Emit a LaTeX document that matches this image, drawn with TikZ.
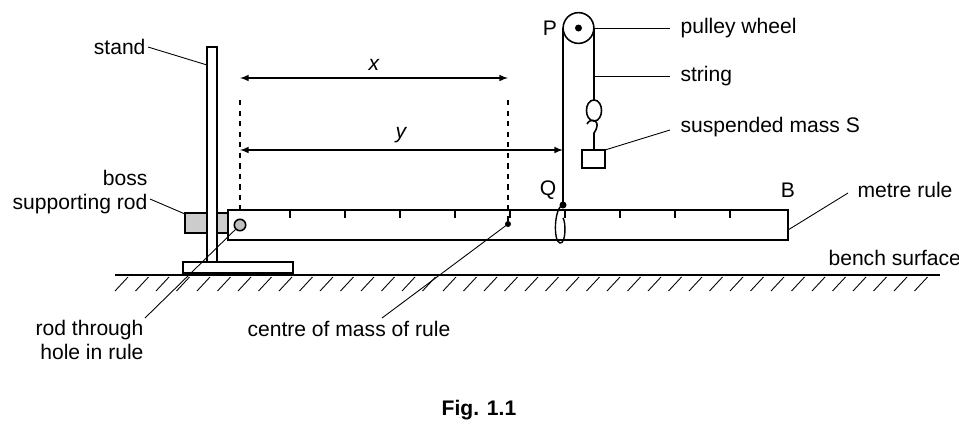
\documentclass[tikz,border=0pt]{standalone}
\usepackage{fontspec}
\setmainfont{Liberation Sans}
\begin{document}
\begin{tikzpicture}[x=0.02cm,y=-0.02cm,line width=0.9pt,
  lbl/.style={font=\fontsize{12}{14}\selectfont,inner sep=1pt},
  lead/.style={line width=0.5pt},
  dim/.style={line width=0.7pt,-latex}]
\useasboundingbox (0,0) rectangle (959,427);
% bench
\draw (115,275) -- (940,275);
\foreach \i in {0,...,39} \draw[line width=0.5pt] (128+20.5*\i,277) -- (115+20.5*\i,291);
% stand
\draw (183,262) rectangle (293,273);
\fill[gray!40] (185,213) rectangle (207,233);
\draw (185,213) rectangle (207,233);
\fill[gray!40] (217,213) rectangle (228,233);
\draw (217,213) -- (228,213) (217,233) -- (228,233);
\draw[fill=white] (207,47) rectangle (217,262);
\coordinate (standpt) at (207,65);
% rule
\draw (228,210) rectangle (788,240);
\foreach \t in {290,345,400,455,510,565,620,675,730} \draw[line width=0.7pt] (\t,210) -- (\t,218);
\node[circle,draw,fill=gray!50,minimum size=6.5pt,inner sep=0pt] (hole) at (240,225) {};
% dashed
\draw[dashed,line width=0.7pt] (240,100) -- (240,210);
\draw[dashed,line width=0.7pt] (508,100) -- (508,224);
\fill (508,224) circle (3);
\coordinate (cm) at (508,224);
% dimension arrows
\draw[dim,latex-latex] (240,78) -- (508,78);
\node[lbl,font=\fontsize{12}{14}\selectfont\itshape] at (374,65) {x};
\draw[dim,latex-latex] (240,150) -- (563,150);
\node[lbl,font=\fontsize{12}{14}\selectfont\itshape] at (401,135) {y};
% pulley
\node[circle,draw,minimum size=17.5pt,inner sep=0pt] (pw) at (578.5,28) {};
\fill (578.5,28) circle (3.5);
\draw (563,28) -- (563,205);
\fill (563,205) circle (3.5);
\coordinate (Q) at (563,205);
\draw[line width=0.8pt] (563,205) .. controls (554,207) and (553,242) .. (560,243) .. controls (566,244) and (566,222) .. (563,218);
\draw (594,28) -- (594,100);
\draw (594,100) .. controls (584,100) and (584,121) .. (594,121) .. controls (604,121) and (604,100) .. (594,100);
\draw (587,124) .. controls (590,117) and (603,120) .. (594,133) -- (594,150);
\draw[fill=white] (582,150) rectangle (605,168);
\coordinate (mass) at (605,150);
% labels
\node[lbl] at (550,28) {P};
\node[lbl] at (548,190) {Q};
\node[lbl] at (788,190) {B};
\node[lbl,anchor=east] (stand) at (148,47) {stand};
\draw[lead] (stand.east) -- (standpt);
\node[lbl,anchor=east,align=right] at (150,192) {boss\\supporting rod};
\draw[lead] (150,199) -- (185,214);
\node[lbl,anchor=west] at (678,28) {pulley wheel};
\draw[lead] (594,28) -- (670,28);
\node[lbl,anchor=west] at (678,76) {string};
\draw[lead] (594,76) -- (670,76);
\node[lbl,anchor=west] at (678,127) {suspended mass S};
\draw[lead] (605,150) -- (670,130);
\node[lbl,anchor=west] at (855,190) {metre rule};
\draw[lead] (788,230) -- (848,193);
\node[lbl,anchor=west] at (826,258) {bench surface};
\node[lbl,align=right,anchor=east] at (146,340) {rod through\\hole in rule};
\draw[lead] (145,318) -- (hole);
\node[lbl,anchor=west] at (245,329) {centre of mass of rule};
\draw[lead] (382,318) -- (cm);
\node[lbl,font=\fontsize{12}{14}\selectfont\bfseries] at (479,410) {Fig. 1.1};
\end{tikzpicture}
\end{document}
